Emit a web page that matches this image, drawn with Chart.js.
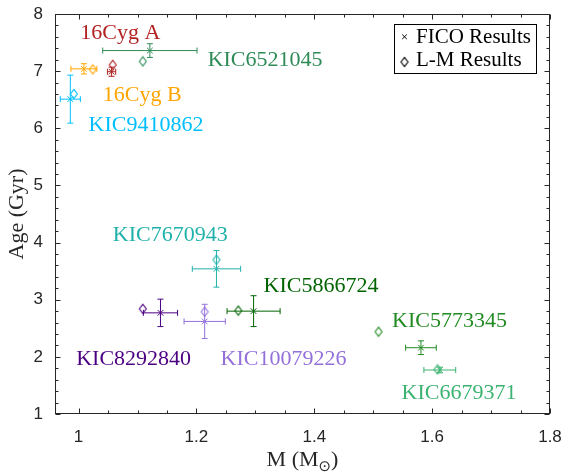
<!DOCTYPE html>
<html>
<head>
<meta charset="utf-8">
<script src="https://cdn.jsdelivr.net/npm/chart.js@4.4.1/dist/chart.umd.min.js"></script>
<style>
  html, body { margin: 0; padding: 0; background: #fff; }
</style>
</head>
<body>
<canvas id="ageChart" width="564" height="475"></canvas>
<script>
// estrelas e resultados
const stars = ['16Cyg A', '16Cyg B', 'KIC6521045', 'KIC9410862', 'KIC7670943', 'KIC5866724', 'KIC8292840', 'KIC10079226', 'KIC5773345', 'KIC6679371'];
const starColors = ['#b22222', '#ffa500', '#2e8b57', '#00bfff', '#20b2aa', '#006400', '#4b0082', '#9370db', '#228b22', '#3cb371'];

const ficoMass = [1.056, 1.009, 1.121, 0.986, 1.234, 1.297, 1.139, 1.214, 1.581, 1.613];
const ficoAge = [6.99, 7.04, 7.36, 6.51, 3.54, 2.80, 2.77, 2.62, 2.16, 1.77];
const ficoMassErr = [0.007, 0.022, 0.080, 0.017, 0.041, 0.045, 0.029, 0.035, 0.026, 0.027];
const ficoAgeErr = [0.08, 0.09, 0.12, 0.42, 0.32, 0.27, 0.24, 0.30, 0.12, 0.05];

const lmMass = [1.058, 1.024, 1.109, 0.992, 1.234, 1.271, 1.109, 1.214, 1.509, 1.609];
const lmAge = [7.11, 7.03, 7.17, 6.60, 3.70, 2.81, 2.84, 2.79, 2.44, 1.78];

// onde cada nome é escrito (coordenadas de dados, canto inferior esquerdo do texto)
const labelMass = [1.003, 1.041, 1.219, 1.017, 1.058, 1.314, 0.996, 1.241, 1.532, 1.548];
const labelAge = [7.56, 6.48, 7.09, 5.96, 4.03, 3.14, 1.86, 1.86, 2.53, 1.255];

const xTicks = [1, 1.2, 1.4, 1.6, 1.8];
const yTicks = [1, 2, 3, 4, 5, 6, 7, 8];
const legendLabels = ['FICO Results', 'L-M Results'];

const AXIS = '#262626';
const SERIF = '"Liberation Serif", "Times New Roman", serif';

// losango mais alto que largo, como o marcador do MATLAB
function diamond(color) {
  const c = document.createElement('canvas');
  c.width = 10; c.height = 12;
  const g = c.getContext('2d');
  g.strokeStyle = color;
  g.lineWidth = 1.1;
  g.beginPath();
  g.moveTo(5, 1.3); g.lineTo(8.5, 6); g.lineTo(5, 10.7); g.lineTo(1.5, 6); g.closePath();
  g.stroke();
  return c;
}

// tamanho fixo do eixo, sem a folga automática dos rótulos
function fixScale(s, size) {
  if (s.isHorizontal()) s.height = size; else s.width = size;
  s.paddingTop = 0; s.paddingBottom = 0; s.paddingLeft = 0; s.paddingRight = 0;
}

const decor = {
  id: 'decor',
  beforeDatasetsDraw(chart) {
    const { ctx, scales: { x, y } } = chart;
    ctx.save();
    ctx.lineWidth = 1;
    stars.forEach((s, i) => {
      const cx = x.getPixelForValue(ficoMass[i]);
      const cy = y.getPixelForValue(ficoAge[i]);
      const x0 = x.getPixelForValue(ficoMass[i] - ficoMassErr[i]);
      const x1 = x.getPixelForValue(ficoMass[i] + ficoMassErr[i]);
      const y0 = y.getPixelForValue(ficoAge[i] - ficoAgeErr[i]);
      const y1 = y.getPixelForValue(ficoAge[i] + ficoAgeErr[i]);
      ctx.strokeStyle = starColors[i];
      ctx.beginPath();
      ctx.moveTo(x0, cy); ctx.lineTo(x1, cy);
      ctx.moveTo(x0, cy - 3); ctx.lineTo(x0, cy + 3);
      ctx.moveTo(x1, cy - 3); ctx.lineTo(x1, cy + 3);
      ctx.moveTo(cx, y0); ctx.lineTo(cx, y1);
      ctx.moveTo(cx - 3, y0); ctx.lineTo(cx + 3, y0);
      ctx.moveTo(cx - 3, y1); ctx.lineTo(cx + 3, y1);
      ctx.stroke();
    });
    ctx.restore();
  },
  afterDraw(chart) {
    const { ctx, chartArea: a, scales: { x, y } } = chart;
    ctx.save();

    // caixa e marcas para dentro, nos quatro lados
    ctx.strokeStyle = AXIS;
    ctx.lineWidth = 1;
    const L = Math.round(a.left) + 0.5, R = Math.round(a.right) - 0.5;
    const T = Math.round(a.top) + 0.5, B = Math.round(a.bottom) - 0.5;
    ctx.strokeRect(L, T, R - L, B - T);
    ctx.beginPath();
    for (let i = 20; i <= 36; i++) {
      const v = i * 0.05;
      const px = Math.round(x.getPixelForValue(v)) + 0.5;
      const len = i % 4 === 0 ? 5 : 3;
      ctx.moveTo(px, B); ctx.lineTo(px, B - len);
      ctx.moveTo(px, T); ctx.lineTo(px, T + len);
    }
    for (let i = 5; i <= 40; i++) {
      const v = i * 0.2;
      const py = Math.round(y.getPixelForValue(v)) + 0.5;
      const len = i % 5 === 0 ? 5 : 3;
      ctx.moveTo(L, py); ctx.lineTo(L + len, py);
      ctx.moveTo(R, py); ctx.lineTo(R - len, py);
    }
    ctx.stroke();

    // nomes das estrelas
    ctx.font = '22px ' + SERIF;
    ctx.textAlign = 'left';
    ctx.textBaseline = 'alphabetic';
    stars.forEach((s, i) => {
      ctx.fillStyle = starColors[i];
      ctx.fillText(s, x.getPixelForValue(labelMass[i]), y.getPixelForValue(labelAge[i]));
    });

    // legenda
    const lw = 142, lh = 49;
    const lx = Math.round(a.right) - 14 - lw + 0.5, ly = Math.round(a.top) + 10 + 0.5;
    ctx.fillStyle = '#fff';
    ctx.fillRect(lx, ly, lw, lh);
    ctx.strokeStyle = '#000';
    ctx.strokeRect(lx, ly, lw, lh);
    const mx = lx + 10;
    ctx.beginPath();
    ctx.moveTo(mx - 2.3, ly + 10); ctx.lineTo(mx + 2.3, ly + 14.6);
    ctx.moveTo(mx + 2.3, ly + 10); ctx.lineTo(mx - 2.3, ly + 14.6);
    ctx.stroke();
    ctx.drawImage(diamond('#000'), mx - 5, ly + 31.5);
    ctx.fillStyle = '#000';
    ctx.font = '21px ' + SERIF;
    ctx.fillText(legendLabels[0], lx + 21.5, ly + 18);
    ctx.fillText(legendLabels[1], lx + 21.5, ly + 41.5);

    // título do eixo x com subscrito
    const cx = (a.left + a.right) / 2;
    const by = 466;
    ctx.fillStyle = AXIS;
    ctx.font = '22px ' + SERIF;
    const p1 = 'M (M', p3 = ')';
    const w1 = ctx.measureText(p1).width, w3 = ctx.measureText(p3).width;
    ctx.font = '15px "DejaVu Sans", sans-serif';
    const w2 = ctx.measureText('\u2299').width;
    let sx = cx - (w1 + w2 + w3) / 2;
    ctx.font = '22px ' + SERIF;
    ctx.fillText(p1, sx, by);
    ctx.font = '15px "DejaVu Sans", sans-serif';
    ctx.fillText('\u2299', sx + w1, by + 5);
    ctx.font = '22px ' + SERIF;
    ctx.fillText(p3, sx + w1 + w2, by);

    ctx.restore();
  }
};

function render() {
  new Chart(document.getElementById('ageChart'), {
    type: 'scatter',
    data: {
      datasets: [
        {
          label: legendLabels[0],
          data: ficoMass.map((m, i) => ({ x: m, y: ficoAge[i] })),
          pointStyle: 'crossRot',
          pointRadius: 4,
          pointHoverRadius: 4,
          borderWidth: 1,
          pointBorderColor: starColors,
          pointBackgroundColor: starColors
        },
        {
          label: legendLabels[1],
          data: lmMass.map((m, i) => ({ x: m, y: lmAge[i] })),
          pointStyle: starColors.map(diamond),
          pointRadius: 5,
          pointHoverRadius: 5,
          pointBorderColor: starColors
        }
      ]
    },
    options: {
      responsive: false,
      animation: false,
      devicePixelRatio: 1,
      layout: { padding: { left: 0, right: 14, top: 14, bottom: 0 } },
      plugins: { legend: { display: false }, tooltip: { enabled: false } },
      scales: {
        x: {
          type: 'linear',
          min: 0.96,
          max: 1.8,
          afterBuildTicks: s => { s.ticks = xTicks.map(v => ({ value: v })); },
          afterFit: s => fixScale(s, 61),
          grid: { display: false, drawTicks: false },
          border: { display: false },
          ticks: { padding: 13, color: AXIS, font: { family: '"Liberation Sans", Arial, sans-serif', size: 17 }, callback: v => String(v), maxRotation: 0 },
          title: { display: false }
        },
        y: {
          type: 'linear',
          min: 1,
          max: 8,
          afterBuildTicks: s => { s.ticks = yTicks.map(v => ({ value: v })); },
          afterFit: s => fixScale(s, 55),
          grid: { display: false, drawTicks: false },
          border: { display: false },
          ticks: { padding: 12, color: AXIS, font: { family: '"Liberation Sans", Arial, sans-serif', size: 17 }, callback: v => String(v) },
          title: { display: true, text: 'Age (Gyr)', color: AXIS, font: { family: SERIF, size: 22 }, padding: { top: 4, bottom: 0 } }
        }
      }
    },
    plugins: [decor]
  });
}

render();
</script>
</body>
</html>
